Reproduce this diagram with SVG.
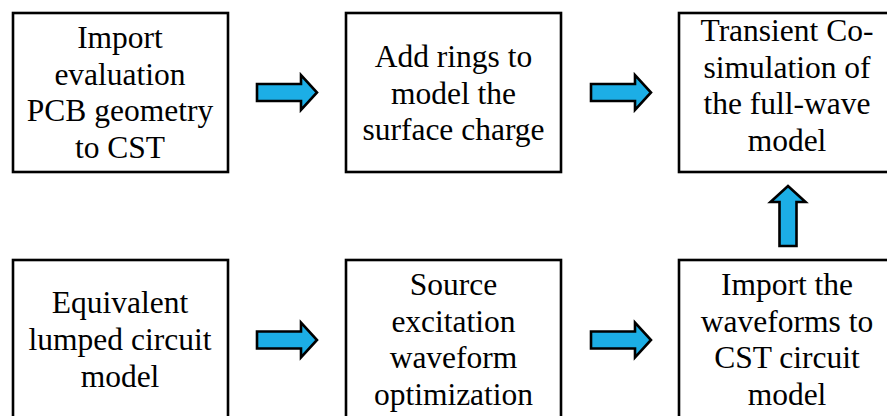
<svg xmlns="http://www.w3.org/2000/svg" xmlns:xlink="http://www.w3.org/1999/xlink" width="887" height="416" viewBox="0 0 887 416">
  <style>
    .box { fill: #ffffff; stroke: #000000; stroke-width: 2.6; }
    .label { font-family: 'Liberation Serif', 'Times New Roman', serif; font-size: 31.5px; fill: #000000; text-anchor: middle; }
    .arrow { fill: #1CAEE6; stroke: #000000; stroke-width: 2.6; stroke-linejoin: miter; }
  </style>
  <defs>
    <!-- block arrow pointing along +x, origin at the tail centre -->
    <path id="blockArrow" d="M0,-8.5 H44 V-17.5 L60,0 L44,17.5 V8.5 H0 Z"/>
  </defs>
  <rect width="887" height="416" fill="#ffffff"/>

  <g id="import-pcb">
    <rect class="box" x="13" y="13" width="215" height="159"/>
    <text class="label" x="120" y="48">Import</text>
    <text class="label" x="120" y="84.5">evaluation</text>
    <text class="label" x="120" y="121">PCB geometry</text>
    <text class="label" x="120" y="157.5">to CST</text>
  </g>

  <g id="add-rings">
    <rect class="box" x="346" y="13" width="215" height="159"/>
    <text class="label" x="453.5" y="67">Add rings to</text>
    <text class="label" x="453.5" y="103.5">model the</text>
    <text class="label" x="453.5" y="140">surface charge</text>
  </g>

  <g id="transient-cosim">
    <rect class="box" x="679" y="13" width="215" height="159"/>
    <text class="label" x="787" y="41">Transient Co-</text>
    <text class="label" x="787" y="77.5">simulation of</text>
    <text class="label" x="787" y="114">the full-wave</text>
    <text class="label" x="787" y="150.5">model</text>
  </g>

  <g id="lumped-circuit">
    <rect class="box" x="13" y="260" width="215" height="200"/>
    <text class="label" x="120" y="313">Equivalent</text>
    <text class="label" x="120" y="350">lumped circuit</text>
    <text class="label" x="120" y="386.5">model</text>
  </g>

  <g id="source-optimization">
    <rect class="box" x="346" y="260" width="215" height="200"/>
    <text class="label" x="453.5" y="295">Source</text>
    <text class="label" x="453.5" y="331.5">excitation</text>
    <text class="label" x="453.5" y="368">waveform</text>
    <text class="label" x="453.5" y="404.5">optimization</text>
  </g>

  <g id="import-waveforms">
    <rect class="box" x="679" y="260" width="215" height="200"/>
    <text class="label" x="787" y="295">Import the</text>
    <text class="label" x="787" y="331.5">waveforms to</text>
    <text class="label" x="787" y="368">CST circuit</text>
    <text class="label" x="787" y="404.5">model</text>
  </g>

  <g id="connectors">
    <use xlink:href="#blockArrow" class="arrow" transform="translate(257,92.5)"/>
    <use xlink:href="#blockArrow" class="arrow" transform="translate(591,92.5)"/>
    <use xlink:href="#blockArrow" class="arrow" transform="translate(788,246) rotate(-90)"/>
    <use xlink:href="#blockArrow" class="arrow" transform="translate(257,340)"/>
    <use xlink:href="#blockArrow" class="arrow" transform="translate(591,340)"/>
  </g>
</svg>
